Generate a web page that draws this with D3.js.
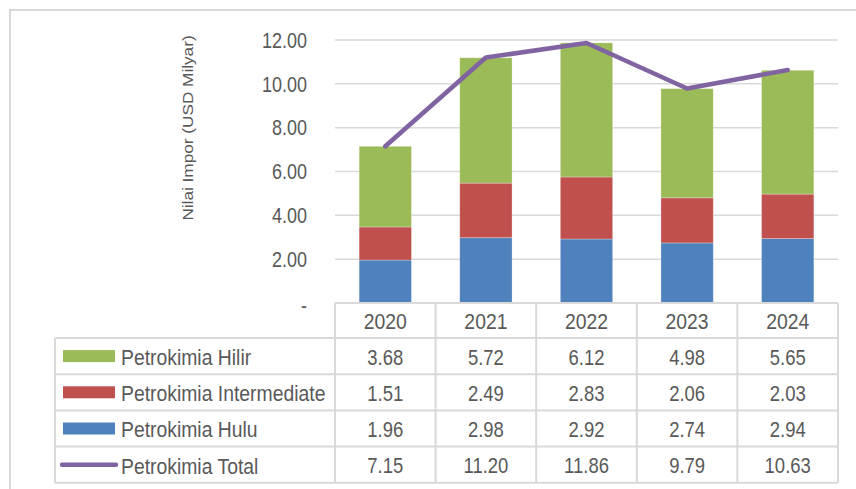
<!DOCTYPE html>
<html>
<head>
<meta charset="utf-8">
<script src="https://cdn.jsdelivr.net/npm/d3@7"></script>
<style>
  body { margin: 0; background: #fff; }
  text { font-family: "Liberation Sans", Arial, sans-serif; fill: #595959; }
</style>
</head>
<body>
<div id="chart"></div>
<script>
const years = ["2020", "2021", "2022", "2023", "2024"];
const hulu = [1.96, 2.98, 2.92, 2.74, 2.94];
const intermediate = [1.51, 2.49, 2.83, 2.06, 2.03];
const hilir = [3.68, 5.72, 6.12, 4.98, 5.65];
const total = [7.15, 11.20, 11.86, 9.79, 10.63];
const yTicks = [0, 2, 4, 6, 8, 10, 12];

const W = 856, H = 489;
const plot = { left: 335, right: 838, top: 40, bottom: 303 };

const svg = d3.select("#chart").append("svg")
  .attr("width", W)
  .attr("height", H);

const x = d3.scaleBand()
  .domain(years)
  .range([plot.left, plot.right])
  .paddingInner(0.48)
  .paddingOuter(0.24);

const y = d3.scaleLinear()
  .domain([0, 12])
  .range([plot.bottom, plot.top]);

const colors = {
  hilir: "#9BBB59",
  intermediate: "#C0504D",
  hulu: "#4F81BD",
  total: "#8064A2"
};
const gridColor = "#d9d9d9";

// the source uses a condensed face, so squeeze text horizontally
function label(g, tx, ty, str, size, anchor, sx, rot) {
  return g.append("text")
    .attr("transform", `translate(${tx},${ty}) scale(${sx},1)` + (rot ? ` rotate(${rot})` : ""))
    .attr("text-anchor", anchor)
    .attr("dominant-baseline", "central")
    .attr("font-size", size)
    .text(str);
}

// outer frame
svg.append("path")
  .attr("d", `M10,${H} V10 H${W}`)
  .attr("fill", "none")
  .attr("stroke", gridColor)
  .attr("stroke-width", 2);

// gridlines
svg.append("g")
  .selectAll("line")
  .data(yTicks.filter(d => d > 0))
  .join("line")
  .attr("x1", plot.left)
  .attr("x2", plot.right)
  .attr("y1", d => y(d))
  .attr("y2", d => y(d))
  .attr("stroke", gridColor)
  .attr("stroke-width", 1.5);

// y tick labels
const yAxis = svg.append("g");
yTicks.forEach(t => {
  label(yAxis, 307, y(t) + (t === 0 ? 2 : 0), t === 0 ? "-" : d3.format(".2f")(t), 22.5, "end", 0.8);
});
label(svg, 187, 128, "Nilai Impor (USD Milyar)", 17.2, "middle", 0.88, -90);

// stacked bars
const rows = years.map((yr, i) => ({ year: yr, hulu: hulu[i], intermediate: intermediate[i], hilir: hilir[i] }));
const stacked = d3.stack().keys(["hulu", "intermediate", "hilir"])(rows);

svg.append("g")
  .selectAll("g")
  .data(stacked)
  .join("g")
  .attr("fill", d => colors[d.key])
  .selectAll("rect")
  .data(d => d)
  .join("rect")
  .attr("x", d => x(d.data.year))
  .attr("width", x.bandwidth())
  .attr("y", d => y(d[1]))
  .attr("height", d => y(d[0]) - y(d[1]))
  .attr("stroke", "rgba(255,255,255,0.35)")
  .attr("stroke-width", 0.8);

// total line
const line = d3.line()
  .x((d, i) => x(years[i]) + x.bandwidth() / 2)
  .y(d => y(d));

svg.append("path")
  .datum(total)
  .attr("d", line)
  .attr("fill", "none")
  .attr("stroke", colors.total)
  .attr("stroke-width", 4.5)
  .attr("stroke-linecap", "round")
  .attr("stroke-linejoin", "round");

// data table
const colW = x.step();
const colX = i => plot.left + i * colW;
const tableLeft = 55;
const headerTop = plot.bottom, headerBottom = 338;
const rowH = 36.2;
const tableRows = [
  { name: "Petrokimia Hilir", key: "hilir", vals: hilir },
  { name: "Petrokimia Intermediate", key: "intermediate", vals: intermediate },
  { name: "Petrokimia Hulu", key: "hulu", vals: hulu },
  { name: "Petrokimia Total", key: "total", vals: total }
];
const tableBottom = headerBottom + rowH * tableRows.length;

const tg = svg.append("g");
const gridLine = (x1, y1, x2, y2) => tg.append("line")
  .attr("x1", x1).attr("y1", y1).attr("x2", x2).attr("y2", y2)
  .attr("stroke", gridColor).attr("stroke-width", 2);

gridLine(plot.left, headerTop, plot.right, headerTop);
tableRows.forEach((r, i) => gridLine(tableLeft, headerBottom + i * rowH, plot.right, headerBottom + i * rowH));
gridLine(tableLeft, tableBottom, plot.right, tableBottom);
gridLine(tableLeft, headerBottom, tableLeft, tableBottom);
years.forEach((yr, i) => gridLine(colX(i), headerTop, colX(i), tableBottom));
gridLine(plot.right, headerTop, plot.right, tableBottom);

years.forEach((yr, i) => label(tg, colX(i) + colW / 2, (headerTop + headerBottom) / 2 + 1, yr, 22, "middle", 0.88));

tableRows.forEach((r, ri) => {
  const cy = headerBottom + ri * rowH + rowH / 2;
  if (r.key === "total") {
    tg.append("line")
      .attr("x1", 62).attr("x2", 116)
      .attr("y1", cy).attr("y2", cy)
      .attr("stroke", colors.total)
      .attr("stroke-width", 4.5)
      .attr("stroke-linecap", "round");
  } else {
    tg.append("rect")
      .attr("x", 63).attr("y", cy - 6)
      .attr("width", 52).attr("height", 12)
      .attr("fill", colors[r.key]);
  }
  label(tg, 121, cy + 1, r.name, 22, "start", 0.88);
  r.vals.forEach((v, i) => label(tg, colX(i) + colW / 2, cy + 1, d3.format(".2f")(v), 22, "middle", 0.84));
});
</script>
</body>
</html>
